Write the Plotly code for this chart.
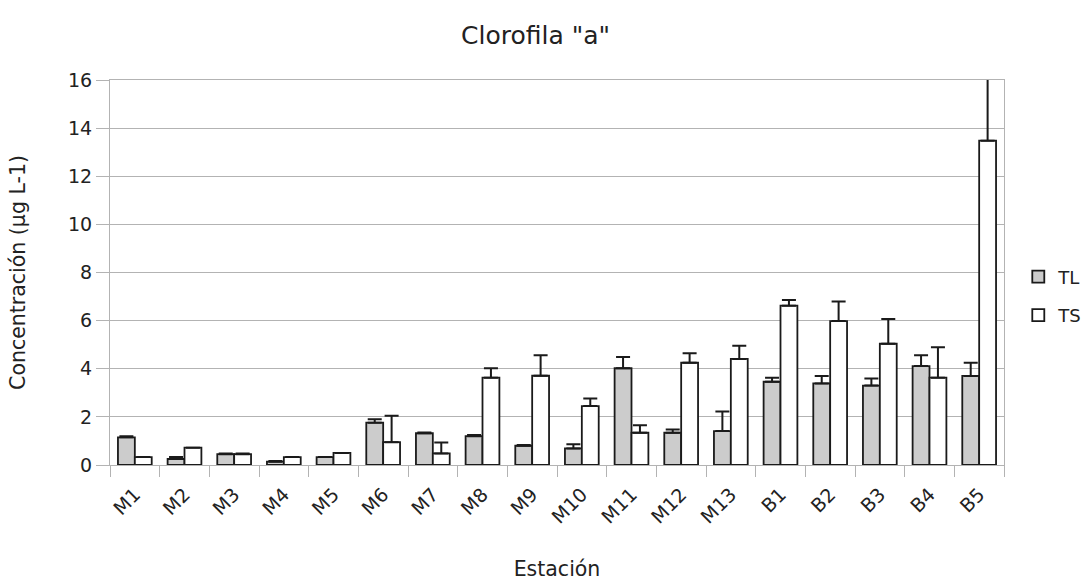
import plotly.graph_objects as go

estaciones = ["M1","M2","M3","M4","M5","M6","M7","M8","M9","M10","M11","M12","M13","B1","B2","B3","B4","B5"]
tl_vals = [1.15,0.25,0.45,0.14,0.33,1.76,1.32,1.20,0.80,0.69,4.02,1.34,1.41,3.46,3.39,3.30,4.11,3.70]
tl_err  = [0.04,0.08,0.03,0.03,0.00,0.14,0.03,0.05,0.03,0.17,0.47,0.14,0.81,0.17,0.31,0.30,0.45,0.55]
ts_vals = [0.33,0.72,0.45,0.33,0.50,0.95,0.48,3.63,3.71,2.45,1.34,4.25,4.41,6.62,5.98,5.04,3.63,13.48]
ts_err  = [0.00,0.00,0.03,0.00,0.00,1.10,0.46,0.39,0.85,0.31,0.31,0.39,0.55,0.24,0.81,1.03,1.26,3.00]

font = "DejaVu Sans, Liberation Sans, sans-serif"
txt = "#222222"
fig = go.Figure()
fig.add_trace(go.Bar(
    name="TL", x=estaciones, y=tl_vals, legendgroup="tl",
    marker=dict(color="#cccccc", line=dict(color="#1a1a1a", width=1.8)),
    error_y=dict(type="data", array=tl_err, arrayminus=[0]*len(tl_err), symmetric=False,
                 color="#1a1a1a", thickness=2, width=7),
))
fig.add_trace(go.Bar(
    name="TS", x=estaciones, y=ts_vals, legendgroup="ts",
    marker=dict(color="#ffffff", line=dict(color="#1a1a1a", width=1.8)),
    error_y=dict(type="data", array=ts_err, arrayminus=[0]*len(ts_err), symmetric=False,
                 color="#1a1a1a", thickness=2, width=7),
))
fig.update_layout(
    width=1092, height=581,
    margin=dict(l=110, r=88, t=80, b=116, autoexpand=False),
    paper_bgcolor="white", plot_bgcolor="white",
    barmode="group", bargap=0.32, bargroupgap=0,
    font=dict(family=font, size=18, color=txt),
    title=dict(text='Clorofila "a"', x=0.4904, xanchor="center", y=0.94, yanchor="middle",
               font=dict(size=25, color=txt)),
    legend=dict(xref="container", yref="container", x=0.9325, y=0.4905,
                xanchor="left", yanchor="middle", font=dict(size=18),
                bgcolor="rgba(0,0,0,0)", tracegroupgap=12),
    xaxis=dict(title=dict(text="Estación", font=dict(size=20.5), standoff=35),
               tickangle=-45, tickson="boundaries", ticks="outside", ticklen=11,
               ticklabelstandoff=10, automargin=False,
               tickcolor="#b3b3b3", showline=True, linecolor="#b3b3b3", linewidth=1,
               mirror=True, showgrid=False, tickfont=dict(size=19)),
    yaxis=dict(title=dict(text="Concentración (µg L-1)", font=dict(size=20.5), standoff=36),
               range=[0, 16], dtick=2, ticks="outside", ticklen=13, tickcolor="#b3b3b3",
               automargin=False,
               showline=True, linecolor="#b3b3b3", linewidth=1, mirror=True,
               showgrid=True, gridcolor="#b3b3b3", gridwidth=1, zeroline=False,
               tickfont=dict(size=19)),
)
fig.write_html("out.html")
